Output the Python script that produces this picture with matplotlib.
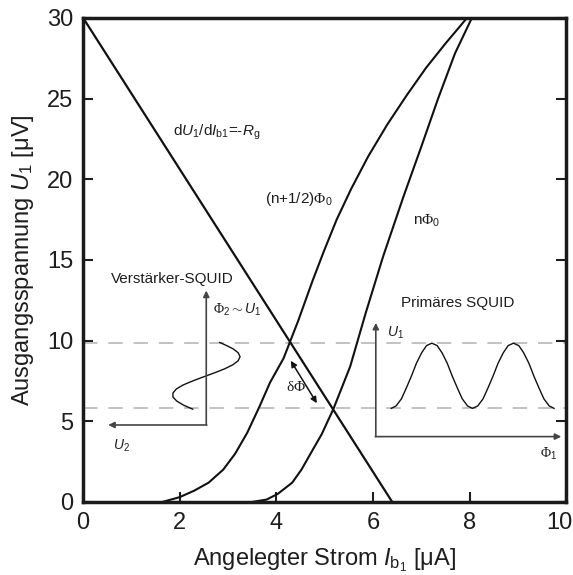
#! /usr/bin/env python3
# -*- coding: utf-8 -*-

import matplotlib
matplotlib.use('Agg')
import matplotlib.pyplot as plt
import matplotlib.transforms as mtransforms

# Kennlinie des Verstaerker-SQUIDs (Gerade)
line_x = [0.0, 6.4]
line_y = [30.0, 0.0]

# Kennlinie bei (n+1/2)Phi0
half_x = [1.64, 2.0, 2.3, 2.6, 2.9, 3.15, 3.4, 3.65, 3.87, 4.15, 4.45,
          4.75, 4.98, 5.25, 5.55, 5.9, 6.3, 6.7, 7.1, 7.5, 7.95]
half_y = [0.0, 0.3, 0.7, 1.2, 2.0, 3.0, 4.3, 5.9, 7.4, 8.9, 11.2,
          13.7, 15.5, 17.5, 19.4, 21.4, 23.4, 25.2, 26.9, 28.4, 30.0]

# Kennlinie bei nPhi0
n_x = [3.5, 3.8, 4.03, 4.33, 4.52, 4.71, 4.94, 5.18, 5.53, 5.85, 6.21,
       6.63, 7.0, 7.35, 7.7, 8.05]
n_y = [0.0, 0.15, 0.5, 1.2, 2.0, 3.0, 4.2, 5.75, 8.4, 11.7, 15.2,
       18.9, 22.0, 25.0, 27.8, 30.0]

# Arbeitsbereich (gestrichelte Linien)
levels = [9.85, 5.8]

# Skizze Verstaerker-SQUID (seitlich liegende Sinuskurve)
amp_y = [5.75, 6.0, 6.25, 6.5, 6.75, 7.0, 7.25, 7.5, 7.75, 8.0, 8.25,
         8.5, 8.75, 9.0, 9.25, 9.5, 9.75, 9.88]
amp_x = [2.27, 2.08, 1.94, 1.86, 1.86, 1.93, 2.07, 2.27, 2.49, 2.72, 2.93,
         3.10, 3.21, 3.25, 3.21, 3.10, 2.93, 2.83]

# Skizze primaeres SQUID
prim_x = [6.38, 6.48, 6.59, 6.69, 6.80, 6.90, 7.01, 7.11, 7.22, 7.33,
          7.43, 7.54, 7.64, 7.75, 7.85, 7.96, 8.06, 8.17, 8.28, 8.38,
          8.49, 8.59, 8.70, 8.80, 8.91, 9.02, 9.12, 9.23, 9.33, 9.44,
          9.54, 9.65, 9.75]
prim_y = [5.80, 5.95, 6.39, 7.05, 7.82, 8.59, 9.25, 9.69, 9.84, 9.69,
          9.25, 8.59, 7.82, 7.05, 6.39, 5.95, 5.80, 5.95, 6.39, 7.05,
          7.82, 8.59, 9.25, 9.69, 9.84, 9.69, 9.25, 8.59, 7.82, 7.05,
          6.39, 5.95, 5.80]

x_ticks = [0, 2, 4, 6, 8, 10]
y_ticks = [0, 5, 10, 15, 20, 25, 30]

plt.rcParams['font.family'] = ['Liberation Sans', 'DejaVu Sans']
plt.rcParams['mathtext.fontset'] = 'custom'
plt.rcParams['mathtext.rm'] = 'Liberation Sans'
plt.rcParams['mathtext.it'] = 'Liberation Sans:italic'
plt.rcParams['mathtext.bf'] = 'Liberation Sans:bold'
plt.rcParams['mathtext.sf'] = 'Liberation Serif'

txt = '#1e1e1e'

fig = plt.figure(figsize=(5.73, 5.75), dpi=100)
ax = fig.add_axes([0.145, 0.127, 0.843, 0.842])

for lv in levels:
    ax.axhline(lv, color='#bdbdbd', lw=1.3, dashes=(8, 6), zorder=1)

ax.plot(line_x, line_y, color='#111111', lw=1.6)
ax.plot(half_x, half_y, color='#111111', lw=1.5)
ax.plot(n_x, n_y, color='#111111', lw=1.5)

# Verstaerker-SQUID Skizze
arr = dict(arrowstyle='-|>', color='#444444', lw=1.2,
           mutation_scale=9, shrinkA=0, shrinkB=0)
ax.annotate('', xy=(2.55, 13.1), xytext=(2.55, 4.77), arrowprops=arr)
ax.annotate('', xy=(0.52, 4.77), xytext=(2.56, 4.77), arrowprops=arr)
ax.plot(amp_x, amp_y, color='#111111', lw=1.0)
ax.text(1.85, 13.8, 'Verstärker-SQUID', fontsize=11, ha='center',
        va='center', color=txt)
ax.text(2.68, 11.9, r'$\mathsf{\Phi}_2\sim U_1$', fontsize=10,
        va='center', color=txt)
ax.text(0.62, 3.5, r'$U_2$', fontsize=10, va='center', color=txt)

# Primaeres SQUID Skizze
ax.annotate('', xy=(6.06, 11.1), xytext=(6.06, 4.05), arrowprops=arr)
ax.annotate('', xy=(9.9, 4.05), xytext=(6.05, 4.05), arrowprops=arr)
ax.plot(prim_x, prim_y, color='#111111', lw=1.0)
ax.text(7.75, 12.35, 'Primäres SQUID', fontsize=11, ha='center',
        va='center', color=txt)
ax.text(6.3, 10.5, r'$U_1$', fontsize=10, va='center', color=txt)
ax.text(9.45, 3.0, r'$\mathsf{\Phi}_1$', fontsize=10, va='center',
        color=txt)

# delta Phi
ax.annotate('', xy=(4.84, 6.12), xytext=(4.30, 8.75),
            arrowprops=dict(arrowstyle='<|-|>', color='#111111', lw=1.1,
                            mutation_scale=9, shrinkA=0, shrinkB=0))
ax.text(4.40, 7.15, r'$\mathsf{\delta\Phi}$', fontsize=11, ha='center',
        va='center', color=txt)

ax.text(1.86, 22.9, r'd$U_1$/d$I_{\mathrm{b}1}$=-$R_\mathrm{g}$',
        fontsize=11, va='center', color=txt)
ax.text(3.77, 18.8, r'(n+1/2)$\mathsf{\Phi}_0$', fontsize=11,
        va='center', color=txt)
ax.text(6.83, 17.4, r'n$\mathsf{\Phi}_0$', fontsize=11, va='center',
        color=txt)

ax.set_xlim(0, 10)
ax.set_ylim(0, 30)
ax.set_xticks(x_ticks)
ax.set_yticks(y_ticks)
ax.tick_params(direction='in', length=7, width=1.5, labelsize=17,
               right=True, top=False, colors=txt, pad=7)
for s in ax.spines.values():
    s.set_linewidth(2.5)
    s.set_color('#1a1a1a')

# letzte Beschriftung etwas nach links, damit sie nicht abgeschnitten wird
last = ax.get_xticklabels()[-1]
last.set_transform(last.get_transform() + mtransforms.ScaledTranslation(
    -7 / 100, 0, fig.dpi_scale_trans))

ax.set_xlabel(r'Angelegter Strom $I_{\mathrm{b}_1}$ [μA]', fontsize=17,
              color=txt, labelpad=9)
ax.set_ylabel(r'Ausgangsspannung $U_1$ [μV]', fontsize=17,
              color=txt, labelpad=8)

fig.savefig('out.png', dpi=100)
